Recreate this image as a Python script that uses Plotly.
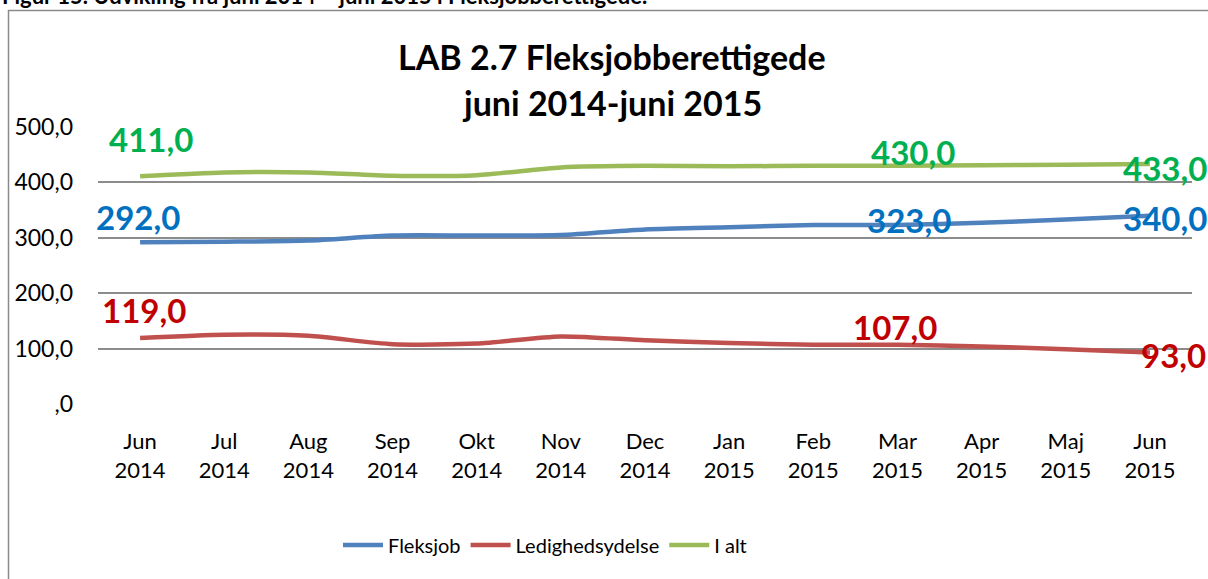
import plotly.graph_objects as go

# ---------------- data ----------------
months = ["Jun<br>2014", "Jul<br>2014", "Aug<br>2014", "Sep<br>2014", "Okt<br>2014", "Nov<br>2014",
          "Dec<br>2014", "Jan<br>2015", "Feb<br>2015", "Mar<br>2015", "Apr<br>2015", "Maj<br>2015",
          "Jun<br>2015"]
fleksjob = [292, 293, 295, 304, 304, 305, 315, 319, 323, 323, 327, 333, 340]
ledighedsydelse = [119, 125, 123, 108, 109, 122, 115, 110, 107, 107, 104, 99, 93]
i_alt = [411, 418, 418, 412, 413, 427, 430, 429, 430, 430, 431, 432, 433]
y_tick_vals = [0, 100, 200, 300, 400, 500]
y_tick_labels = [",0", "100,0", "200,0", "300,0", "400,0", "500,0"]
labelled_idx = [0, 9, 12]

# ---------------- layout helpers (pixels) ----------------
W, H = 1208, 579
PL, PR, PT, PB = 98, 1192, 127, 404
FONT = "Lato"


def px_x(p):
    return (p - PL) / (PR - PL)


def px_y(p):
    return (PB - p) / (PB - PT)


def fmt(v):
    return f"{v:.1f}".replace(".", ",")


series = [
    ("Fleksjob", fleksjob, "#4F81BD", "#0070C0"),
    ("Ledighedsydelse", ledighedsydelse, "#C0504D", "#C00000"),
    ("I alt", i_alt, "#9BBB59", "#00B050"),
]

fig = go.Figure()
for name, vals, col, _ in series:
    fig.add_trace(go.Scatter(
        x=list(range(len(months))), y=vals, name=name, mode="lines",
        line=dict(color=col, width=4.5, shape="spline", smoothing=0.7),
        hoverinfo="skip",
    ))

# data label offsets (pixel shifts) per series, per labelled index
shifts = {
    "Fleksjob": [(-2, 25), (12, 5), (15, -2)],
    "Ledighedsydelse": [(4, 28), (-2, 18), (24, -3)],
    "I alt": [(11, 37), (16, 14), (15, -4)],
}
annotations = []
for name, vals, _, lcol in series:
    for k, i in enumerate(labelled_idx):
        dx, dy = shifts[name][k]
        annotations.append(dict(
            x=i, y=vals[i], xref="x", yref="y", text=fmt(vals[i]), showarrow=False,
            xshift=dx, yshift=dy, font=dict(family=FONT, size=33, color=lcol, weight="bold"),
            xanchor="center", yanchor="middle",
        ))

# chart titles
annotations.append(dict(x=px_x(612), y=px_y(57), xref="paper", yref="paper",
                        text="<b>LAB 2.7 Fleksjobberettigede</b>", showarrow=False,
                        font=dict(family=FONT, size=34, color="black"),
                        xanchor="center", yanchor="middle"))
annotations.append(dict(x=px_x(612), y=px_y(102), xref="paper", yref="paper",
                        text="<b>juni 2014-juni 2015</b>", showarrow=False,
                        font=dict(family=FONT, size=34, color="black"),
                        xanchor="center", yanchor="middle"))
# page caption, cut off at the top
annotations.append(dict(x=px_x(0), y=px_y(-4), xref="paper", yref="paper",
                        text="<b>Figur 15. Udvikling fra juni 2014 – juni 2015 i Fleksjobberettigede.</b>",
                        showarrow=False, font=dict(family=FONT, size=22, color="black"),
                        xanchor="left", yanchor="middle"))

fig.update_layout(
    width=W, height=H,
    margin=dict(l=PL, r=W - PR, t=PT, b=H - PB),
    paper_bgcolor="white", plot_bgcolor="white",
    font=dict(family=FONT, size=21, color="black"),
    showlegend=True,
    legend=dict(orientation="h", x=px_x(545), y=px_y(545), xanchor="center", yanchor="middle",
                font=dict(family=FONT, size=20, color="black"), itemwidth=40,
                traceorder="normal", bgcolor="rgba(0,0,0,0)"),
    annotations=annotations,
    shapes=[dict(type="rect", xref="paper", yref="paper",
                 x0=px_x(8.5), x1=px_x(1230), y0=px_y(600), y1=px_y(10.5),
                 line=dict(color="#8A8A8A", width=1.5), fillcolor="rgba(0,0,0,0)", layer="below")],
)
fig.update_xaxes(range=[-0.5, len(months) - 0.5], tickvals=list(range(len(months))), ticktext=months,
                 showgrid=False, zeroline=False, showline=False, ticks="",
                 tickfont=dict(family=FONT, size=22, color="black"), ticklabelstandoff=22,
                 fixedrange=True)
fig.update_yaxes(range=[0, 500], tickvals=y_tick_vals, ticktext=y_tick_labels,
                 showgrid=True, gridcolor="#8C8C8C", gridwidth=1.5, zeroline=False, showline=False,
                 ticks="", tickfont=dict(family=FONT, size=23, color="black"), ticklabelstandoff=24,
                 fixedrange=True)

fig.write_html("out.html", config={"displayModeBar": False},
               post_script="document.body.style.margin='0';document.body.style.overflow='hidden';")
